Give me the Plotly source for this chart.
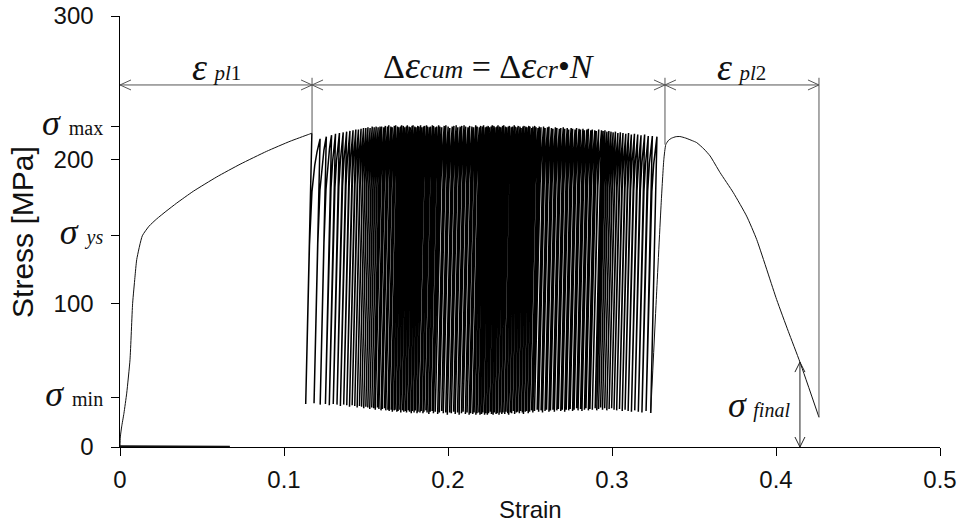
import plotly.graph_objects as go

# ---- monotonic loading up to the first peak ----
init_strain = [0, 0.0002, 0.0010, 0.0024, 0.0041, 0.0061, 0.0077, 0.0091, 0.0102,
               0.0136, 0.0177, 0.0224, 0.0280, 0.0346, 0.0447, 0.0590, 0.0732,
               0.0894, 0.1037, 0.1148, 0.1170]
init_stress = [0, 7, 14, 23.5, 37.5, 60.7, 100, 118, 130.5,
               147, 153.7, 158.8, 164, 169.8, 178, 188, 196.8,
               205.8, 212.8, 217.5, 218.4]

# residue of the record lying on the strain axis
tail_strain = [0, 0.067]
tail_stress = [0.6, 0.3]

# ---- ratcheting cycles: strain and stress at each peak, stress at each valley ----
peak_strain = [
    0.1220, 0.1258, 0.1290, 0.1314, 0.1338, 0.1361, 0.1382, 0.1402, 0.1421, 0.1438,
    0.1454, 0.1470, 0.1485, 0.1499, 0.1512, 0.1525, 0.1538, 0.1550, 0.1562, 0.1574,
    0.1586,
    0.1596, 0.1609, 0.1618, 0.1631, 0.1639, 0.1652, 0.1660, 0.1673, 0.1681, 0.1693,
    0.1700, 0.1711, 0.1717, 0.1728, 0.1735, 0.1746, 0.1752, 0.1763, 0.1770, 0.1781,
    0.1787, 0.1798, 0.1805, 0.1816, 0.1822, 0.1833, 0.1840, 0.1851, 0.1857, 0.1869,
    0.1876, 0.1887, 0.1893, 0.1905, 0.1912, 0.1923, 0.1931, 0.1943, 0.1951,
    0.1962, 0.1977, 0.1987, 0.2001, 0.2011, 0.2026, 0.2036, 0.2050, 0.2060, 0.2074,
    0.2084, 0.2098, 0.2108, 0.2122, 0.2132, 0.2146, 0.2156, 0.2169, 0.2178, 0.2191,
    0.2199, 0.2210, 0.2217, 0.2228, 0.2235, 0.2245, 0.2252, 0.2263, 0.2270, 0.2280,
    0.2287, 0.2298, 0.2305, 0.2315, 0.2322, 0.2333, 0.2340, 0.2351, 0.2357, 0.2368,
    0.2375, 0.2386, 0.2393, 0.2404, 0.2410, 0.2421, 0.2428, 0.2439, 0.2446, 0.2457,
    0.2464, 0.2475, 0.2482, 0.2493, 0.2500, 0.2511, 0.2518, 0.2529, 0.2537, 0.2549,
    0.2557,
    0.2567, 0.2583, 0.2592, 0.2607, 0.2616, 0.2631, 0.2640, 0.2655, 0.2664, 0.2679,
    0.2688, 0.2703, 0.2712, 0.2727, 0.2736, 0.2751, 0.2760, 0.2775, 0.2784, 0.2799,
    0.2808, 0.2823, 0.2832, 0.2847, 0.2856, 0.2871, 0.2880, 0.2895, 0.2904, 0.2919,
    0.2936, 0.2946, 0.2957, 0.2969, 0.2981, 0.2994, 0.3007, 0.3021, 0.3036, 0.3051,
    0.3067, 0.3084, 0.3101, 0.3118, 0.3137, 0.3157, 0.3177, 0.3199, 0.3221, 0.3246,
    0.3274,
]
peak_stress = [
    214.5, 216, 217, 218, 218.5, 219, 219.5, 220, 220.5, 221,
    221, 221.5, 222, 222, 222.5, 222, 223, 222.5, 223, 222.5,
    223,
    223, 222.5, 223.5, 223, 224, 223, 222.5, 223.5, 224, 223,
    222.5, 223, 224, 223.5, 222.5, 223, 224, 223, 222.5, 223.5,
    224, 223, 222.5, 223.5, 223, 224, 222.5, 223, 223.5, 224,
    223, 222.5, 223, 224, 223.5, 222.5, 223, 224, 223, 222.5,
    223.5, 224, 223, 222, 223, 223.5, 224, 222.5, 223, 223.5,
    224, 223, 222.5, 223.5, 223, 222.5, 224, 223, 222.5, 223.5,
    223, 224, 222.5, 223, 223.5, 222.5, 223, 224, 223.5, 222.5,
    223, 224, 223, 222.5, 223.5, 224, 223, 222.5, 223, 223.5,
    222.5, 223, 224, 223, 222.5, 223.5, 223, 222, 223, 223.5,
    223, 222.5, 223.5, 223, 222, 223, 223.5, 222.5, 222, 223,
    222.5, 223, 222, 222.5, 223, 222, 221.5, 222.5, 222, 221.5,
    222, 222.5, 221.5, 222, 221, 222, 221.5, 221, 222, 221.5,
    221, 221.5, 220.5, 221, 221.5, 220.5, 221, 220.5, 220, 221,
    220.5, 220, 220.5, 219.5, 220, 219.5, 219, 219.5, 218.5, 219,
    218.5, 218, 218.5, 217.5, 218, 217.5, 217, 217.5, 216.5, 216.5,
    216,
]
valley_stress = [
    30, 30.5, 29.5, 30, 29, 30, 29.5, 28.5, 29.5, 29,
    28, 29, 28.5, 27.5, 28.5, 28, 27, 28, 27.5, 26.5,
    27.5,
    27, 26, 27.5, 26.5, 25.5, 26.5, 27, 25.5, 26, 25,
    26, 24.5, 25.5, 26, 24.5, 25, 26, 24, 25.5, 24.5,
    25, 24, 25.5, 24.5, 23.5, 25, 24, 25.5, 23.5, 24.5,
    24, 25, 23.5, 24.5, 25.5, 24, 23, 24.5, 25, 23.5,
    24.5, 23, 24, 25, 23.5, 24, 22.5, 24, 23.5, 24.5,
    23, 24, 22.5, 23.5, 24.5, 23, 24, 22.5, 23.5, 23,
    24, 22.5, 23.5, 24, 22.5, 23, 24, 22.5, 23.5, 22.5,
    23.5, 24.5, 23, 22.5, 24, 23, 23.5, 22.5, 24, 23,
    24, 23, 24.5, 23.5, 22.5, 24, 23.5, 25, 23, 24,
    24.5, 23.5, 25, 24, 23, 24.5, 25, 23.5, 24.5, 25.5,
    24, 25, 26, 24.5, 25.5, 24, 25, 26, 24.5, 25.5,
    26, 24.5, 25.5, 26.5, 25, 26, 24.5, 26, 25.5, 26.5,
    25, 26, 27, 25.5, 26.5, 25, 26, 27, 25.5, 26.5,
    26, 27, 25.5, 26.5, 27.5, 26, 27, 25.5, 26.5, 27,
    26, 25.5, 26.5, 25, 26, 25, 24.5, 25.5, 24.5, 24,
    25,
]

# ---- final loading and drop to fracture ----
final_strain = [0.3236, 0.3270, 0.3300, 0.3316, 0.3328, 0.3345, 0.3364, 0.3390,
                0.3415, 0.3450, 0.3490, 0.3516, 0.3560, 0.3598, 0.3659, 0.3740,
                0.3821, 0.3882, 0.4004, 0.4075, 0.4146, 0.4262]
final_stress = [23.7, 102.6, 170, 200, 210.5, 213.5, 215, 216,
                216.1, 215, 213.2, 211.9, 207.5, 202.6, 191, 177,
                160.7, 144.5, 102.6, 80.5, 59.1, 20.7]

# ---- characteristic levels and dimension marks ----
ytick_vals = [0, 34.4, 100, 147.2, 200, 222.8, 300]
xtick_vals = [0, 0.1, 0.2, 0.3, 0.4, 0.5]
xtick_text = ["0", "0.1", "0.2", "0.3", "0.4", "0.5"]
dim_marks = [0, 0.1171, 0.3323, 0.4262]      # strain limits of the three stages
dim_level = 252                               # stress level of the dimension line
dim_top = 257
sigma_final_strain = 0.4146
sigma_final_value = 59.1

YOUNG_MODULUS = 50000.0                       # MPa, slope of the unloading branches
LOAD_FRACTIONS = [0.6, 0.8, 0.9, 0.95, 0.98, 1.0]

SERIF = "'Liberation Serif','Times New Roman',serif"
SANS = "Liberation Sans, Arial, sans-serif"
INK = "#111111"
DIM = "#555555"
THIN = "\u2009"

# assemble the cyclic path: elastic unloading, then elastic-plastic reloading
cyc_x = [init_strain[-1]]
cyc_y = [init_stress[-1]]
prev_s, prev_sig = init_strain[-1], init_stress[-1]
for p_s, p_sig, v_sig in zip(peak_strain, peak_stress, valley_stress):
    v_s = prev_s - (prev_sig - v_sig) / YOUNG_MODULUS
    cyc_x.append(v_s)
    cyc_y.append(v_sig)
    plastic = p_s - v_s - (p_sig - v_sig) / YOUNG_MODULUS
    for u in LOAD_FRACTIONS:
        sig = v_sig + u * (p_sig - v_sig)
        cyc_x.append(v_s + (sig - v_sig) / YOUNG_MODULUS + plastic * u ** 8)
        cyc_y.append(sig)
    prev_s, prev_sig = p_s, p_sig
cyc_x.append(final_strain[0])
cyc_y.append(final_stress[0])

fig = go.Figure()
fig.add_trace(go.Scatter(x=tail_strain, y=tail_stress, mode="lines",
                         line=dict(color=INK, width=1.6), hoverinfo="skip"))
fig.add_trace(go.Scatter(x=init_strain, y=init_stress, mode="lines",
                         line=dict(color=INK, width=1, shape="spline", smoothing=0.5)))
fig.add_trace(go.Scatter(x=cyc_x, y=cyc_y, mode="lines",
                         line=dict(color="#000000", width=1.5)))
fig.add_trace(go.Scatter(x=final_strain, y=final_stress, mode="lines",
                         line=dict(color=INK, width=1, shape="spline", smoothing=0.5)))

shapes = []


def seg(x0, y0, x1, y1, color=DIM, width=1):
    shapes.append(dict(type="line", xref="x", yref="y", x0=x0, y0=y0, x1=x1, y1=y1,
                       line=dict(color=color, width=width), layer="above"))


def head(xa, ya, dx, dy, color=DIM):
    # a pair of short strokes of fixed pixel size anchored at a data point
    for sgn in (1, -1):
        if dx != 0:
            p = dict(x0=0, x1=dx, y0=0, y1=sgn * dy)
        else:
            p = dict(x0=0, x1=sgn * 5, y0=0, y1=dy)
        shapes.append(dict(type="line", xref="x", yref="y",
                           xsizemode="pixel", xanchor=xa,
                           ysizemode="pixel", yanchor=ya,
                           line=dict(color=color, width=1), layer="above", **p))


# dimension line with its stage limits
seg(dim_marks[0], dim_level, dim_marks[-1], dim_level)
seg(dim_marks[1], dim_top, dim_marks[1], init_stress[-1])
seg(dim_marks[2], dim_top, dim_marks[2], final_stress[4])
seg(dim_marks[3], dim_top, dim_marks[3], final_stress[-1])
head(dim_marks[0], dim_level, 11, 5)
head(dim_marks[1], dim_level, -11, 5)
head(dim_marks[1], dim_level, 11, 5)
head(dim_marks[2], dim_level, -11, 5)
head(dim_marks[2], dim_level, 11, 5)
head(dim_marks[3], dim_level, -11, 5)

# final stress arrow
seg(sigma_final_strain, 0, sigma_final_strain, sigma_final_value, color="#222222")
head(sigma_final_strain, sigma_final_value, 0, -10, color="#222222")
head(sigma_final_strain, 0, 0, 10, color="#222222")


def sig_label(sub, italic=False):
    s = f"<i>{sub}</i>" if italic else sub
    return (f"<span style=\"font-family:{SERIF};font-size:36px\"><i>σ</i> "
            f"<span style=\"font-size:20px\">{s}</span></span>")


ytick_text = ["0" + THIN * 2, sig_label("min"), "100" + THIN * 2, sig_label("ys", True),
              "200" + THIN * 2, sig_label("max"), "300" + THIN * 2]

EPS = "<span style=\"font-size:38px\"><i>ε</i></span>"
annotations = [
    dict(x=(dim_marks[0] + dim_marks[1]) / 2, y=264.5, xref="x", yref="y",
         text=EPS + " <span style=\"font-size:21px\"><i>pl</i>1</span>"),
    dict(x=(dim_marks[1] + dim_marks[2]) / 2, y=266, xref="x", yref="y",
         text="Δ" + EPS + "<span style=\"font-size:26px\"><i>cum</i></span> = "
              "Δ" + EPS + "<span style=\"font-size:26px\"><i>cr</i></span>•<i>N</i>",
         font_size=34),
    dict(x=(dim_marks[2] + dim_marks[3]) / 2, y=264.5, xref="x", yref="y",
         text=EPS + " <span style=\"font-size:21px\"><i>pl</i>2</span>"),
    dict(x=0.3896, y=29, xref="x", yref="y",
         text="<span style=\"font-size:36px\"><i>σ</i></span> "
              "<span style=\"font-size:20px\"><i>final</i></span>"),
]
for a in annotations:
    size = a.pop("font_size", 30)
    a.update(showarrow=False, xanchor="center", yanchor="middle",
             font=dict(family=SERIF, size=size, color=INK))

annotations += [
    dict(x=0.5, y=-0.144, xref="paper", yref="paper", text="Strain", showarrow=False,
         xanchor="center", yanchor="middle", font=dict(family=SANS, size=24, color=INK)),
    dict(x=-0.119, y=0.5, xref="paper", yref="paper", text="Stress [MPa]",
         showarrow=False, textangle=-90, xanchor="center", yanchor="middle",
         font=dict(family=SANS, size=30, color=INK)),
]

fig.update_layout(
    width=969, height=525,
    margin=dict(l=120, r=29, t=16, b=78),
    paper_bgcolor="white", plot_bgcolor="white",
    showlegend=False,
    font=dict(family=SANS, size=24, color=INK),
    shapes=shapes,
    annotations=annotations,
    xaxis=dict(range=[0, 0.5], tickvals=xtick_vals, ticktext=xtick_text,
               showgrid=False, zeroline=False, showline=True, linecolor="black",
               linewidth=1, ticks="outside", ticklen=8, tickcolor="black",
               ticklabelstandoff=3, automargin=False,
               tickfont=dict(family=SANS, size=24, color=INK)),
    yaxis=dict(range=[0, 300], tickvals=ytick_vals, ticktext=ytick_text,
               showgrid=False, zeroline=False, showline=True, linecolor="black",
               linewidth=1, ticks="outside", ticklen=8, tickcolor="black",
               ticklabelstandoff=3, automargin=False,
               tickfont=dict(family=SANS, size=24, color=INK)),
)

fig.write_html("out.html")
